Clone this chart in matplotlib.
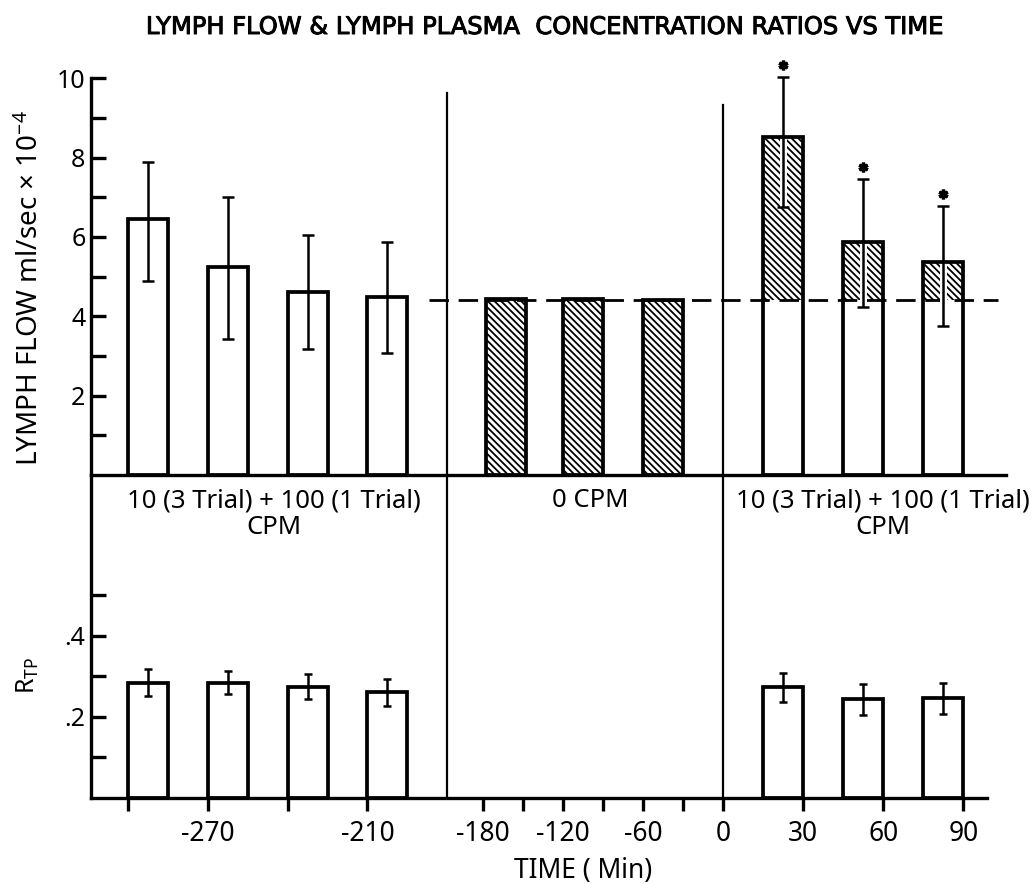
import numpy as np
import matplotlib
matplotlib.use("Agg")
import matplotlib.pyplot as plt
import matplotlib.patheffects as pe

# ---------------- data ----------------
title = "LYMPH FLOW & LYMPH PLASMA  CONCENTRATION RATIOS VS TIME"
ylabel_top = r"LYMPH FLOW ml/sec $\times$ 10$^{-4}$"
ylabel_bot = r"R$_{\mathrm{TP}}$"
xlabel = "TIME ( Min)"
period_labels = ["10 (3 Trial) + 100 (1 Trial)\nCPM", "0 CPM",
                 "10 (3 Trial) + 100 (1 Trial)\nCPM"]

# bar start times (min) and bar durations for the three periods
pre_start = [-300, -270, -240, -210]
ctrl_start = [-178, -120, -60]
post_start = [15, 45, 75]
pre_dur, ctrl_dur, post_dur = 15, 30, 15

# lymph flow (ml/sec x 1e-4)
flow_pre = [6.45, 5.24, 4.61, 4.48]
flow_pre_err_hi = [1.43, 1.78, 1.44, 1.39]
flow_pre_err_lo = [1.55, 1.82, 1.44, 1.41]
flow_ctrl = [4.44, 4.43, 4.42]
flow_post = [8.51, 5.88, 5.38]
flow_post_err_hi = [1.53, 1.58, 1.40]
flow_post_err_lo = [1.75, 1.65, 1.62]
flow_control_mean = 4.41

# lymph/plasma concentration ratio R_TP
rtp_pre = [0.284, 0.284, 0.274, 0.260]
rtp_pre_err = [0.033, 0.028, 0.031, 0.033]
rtp_post = [0.273, 0.243, 0.245]
rtp_post_err = [0.036, 0.038, 0.038]

pre_ticks = [-300, -270, -240, -210]
pre_ticklabels = ["", "-270", "", "-210"]
ctrl_ticks = [-180, -150, -120, -90, -60, -30]
ctrl_ticklabels = ["-180", "", "-120", "", "-60", ""]
post_ticks = [0, 30, 60, 90]
post_ticklabels = ["0", "30", "60", "90"]

top_yticks = list(range(1, 11))
top_yticklabels = ["" if v % 2 else str(v) for v in top_yticks]
bot_yticks = [0.1, 0.2, 0.3, 0.4, 0.5]
bot_yticklabels = ["", ".2", "", ".4", ""]

# ---------------- layout ----------------
W, H = 1034, 884
X0, X1 = 91, 1006                       # horizontal axis range (pixel-like units)
TOP_BASE, TOP_PX = 475.0, 39.67         # top panel baseline / px per unit
BOT_BASE, BOT_PX = 797.7, 405.0         # bottom panel baseline / px per unit
# broken time axis: each period has its own linear scale
SEG = [(-315, -180, 87.7, 447.4),
       (-207, 0, 447.4, 723.0),
       (0, 106, 723.0, 1006.0)]


def pos(seg, t):
    t0, t1, u0, u1 = SEG[seg]
    return u0 + (np.asarray(t, dtype=float) - t0) * (u1 - u0) / (t1 - t0)


FONT = ["Noto Sans", "DejaVu Sans"]
plt.rcParams["font.family"] = FONT
plt.rcParams["mathtext.fontset"] = "custom"
plt.rcParams["mathtext.rm"] = "Noto Sans"
plt.rcParams["mathtext.it"] = "Noto Sans:italic"
plt.rcParams["hatch.linewidth"] = 1.3

LW_BAR, LW_SPINE, LW_ERR, LW_SEP = 2.7, 2.4, 1.8, 1.6
HATCH = "\\" * 5

fig = plt.figure(figsize=(W / 100, H / 100), dpi=100)
top_ylim = (0, 10.9)
bot_ylim = (0, (BOT_BASE - TOP_BASE) / BOT_PX)
ax_t = fig.add_axes([X0 / W, 1 - TOP_BASE / H, (X1 - X0) / W, top_ylim[1] * TOP_PX / H])
ax_b = fig.add_axes([X0 / W, 1 - BOT_BASE / H, (X1 - X0) / W, (BOT_BASE - TOP_BASE) / H])

for ax in (ax_t, ax_b):
    ax.set_facecolor("none")
    ax.set_xlim(X0, X1)
    for s in ("top", "right"):
        ax.spines[s].set_visible(False)
    for s in ("left", "bottom"):
        ax.spines[s].set_linewidth(LW_SPINE)

ax_t.set_ylim(*top_ylim)
ax_b.set_ylim(*bot_ylim)

# ---------------- top panel ----------------
pre_x = pos(0, pre_start)
pre_w = pos(0, np.array(pre_start) + pre_dur) - pre_x
ctrl_x = pos(1, ctrl_start)
ctrl_w = pos(1, np.array(ctrl_start) + ctrl_dur) - ctrl_x
post_x = pos(2, post_start)
post_w = pos(2, np.array(post_start) + post_dur) - post_x

ax_t.bar(pre_x, flow_pre, pre_w, align="edge", color="white", edgecolor="black",
         linewidth=LW_BAR, zorder=2)
ax_t.errorbar(pre_x + pre_w / 2, flow_pre, yerr=[flow_pre_err_lo, flow_pre_err_hi],
              fmt="none", ecolor="black", elinewidth=LW_ERR, capsize=4.5,
              capthick=LW_ERR, zorder=4)

ax_t.bar(ctrl_x, flow_ctrl, ctrl_w, align="edge", color="white", edgecolor="black",
         linewidth=LW_BAR, hatch=HATCH, zorder=2)

flow_post_arr = np.array(flow_post)
ax_t.bar(post_x, [flow_control_mean] * len(post_x), post_w, align="edge",
         color="white", edgecolor="none", zorder=2)
ax_t.bar(post_x, flow_post_arr - flow_control_mean, post_w, bottom=flow_control_mean,
         align="edge", color="white", edgecolor="black", linewidth=0,
         hatch=HATCH, zorder=2)

# control-mean dashed reference line
ax_t.plot([pos(0, -187), pos(2, 103)], [flow_control_mean] * 2, color="black",
          linewidth=2.0, linestyle=(0, (7, 3.5)), zorder=3)

eb = ax_t.errorbar(post_x + post_w / 2, flow_post,
                   yerr=[flow_post_err_lo, flow_post_err_hi], fmt="none",
                   ecolor="black", elinewidth=LW_ERR, capsize=4.5,
                   capthick=LW_ERR, zorder=4)
for lc in eb[2]:
    lc.set_path_effects([pe.withStroke(linewidth=5, foreground="white")])
ax_t.bar(post_x, flow_post, post_w, align="edge", fill=False, edgecolor="black",
         linewidth=LW_BAR, zorder=5)

# significance stars
ax_t.plot(post_x + post_w / 2, flow_post_arr + np.array(flow_post_err_hi) + 0.3,
          linestyle="none", marker=(6, 2, 0), markersize=7, markeredgewidth=2.4,
          color="black", clip_on=False, zorder=6)

# period separators
ax_t.plot([SEG[0][3]] * 2, [0, 9.63], color="black", linewidth=LW_SEP, zorder=3)
ax_t.plot([SEG[1][3]] * 2, [0, 9.33], color="black", linewidth=LW_SEP, zorder=3)

ax_t.spines["left"].set_bounds(0, 10)
ax_t.set_yticks(top_yticks)
ax_t.set_yticklabels(top_yticklabels)
ax_t.set_xticks([])
ax_t.tick_params(axis="y", direction="in", length=11, width=LW_SPINE, pad=4,
                 labelsize=18)

# ---------------- bottom panel ----------------
ax_b.bar(pre_x, rtp_pre, pre_w, align="edge", color="white", edgecolor="black",
         linewidth=LW_BAR, zorder=2)
ax_b.errorbar(pre_x + pre_w / 2, rtp_pre, yerr=rtp_pre_err, fmt="none",
              ecolor="black", elinewidth=LW_ERR, capsize=3.2, capthick=LW_ERR,
              zorder=4)
ax_b.bar(post_x, rtp_post, post_w, align="edge", color="white", edgecolor="black",
         linewidth=LW_BAR, zorder=2)
ax_b.errorbar(post_x + post_w / 2, rtp_post, yerr=rtp_post_err, fmt="none",
              ecolor="black", elinewidth=LW_ERR, capsize=3.2, capthick=LW_ERR,
              zorder=4)

ax_b.axvline(SEG[0][3], color="black", linewidth=LW_SEP, zorder=3)
ax_b.axvline(SEG[1][3], color="black", linewidth=LW_SEP, zorder=3)

ax_b.spines["bottom"].set_bounds(X0, float(pos(2, 99)))
ax_b.set_yticks(bot_yticks)
ax_b.set_yticklabels(bot_yticklabels)
ax_b.tick_params(axis="y", direction="in", length=11, width=LW_SPINE, pad=4,
                 labelsize=18)

xt = np.concatenate([pos(0, pre_ticks), pos(1, ctrl_ticks), pos(2, post_ticks)])
xl = pre_ticklabels + ctrl_ticklabels + post_ticklabels
ax_b.set_xticks(xt)
ax_b.set_xticklabels(xl)
ax_b.tick_params(axis="x", direction="out", length=9, width=LW_SPINE, pad=7,
                 labelsize=19)

# period labels
lab_u = [pos(0, -245), pos(1, -100), pos(2, 60)]
lab_y = [0.879, 0.922, 0.879]
for u, y, s in zip(lab_u, lab_y, period_labels):
    ax_b.text(float(u), y, s, transform=ax_b.get_xaxis_transform(), ha="center",
              va="center", multialignment="center", fontsize=18.5, linespacing=1.1)

# ---------------- figure texts ----------------
fig.text(544 / W, 1 - 27 / H, title, ha="center", va="center", fontsize=17.4,
         family=["DejaVu Sans"],
         path_effects=[pe.withStroke(linewidth=0.7, foreground="black")])
fig.text(31 / W, 1 - 288 / H, ylabel_top, rotation=90, ha="center", va="center",
         fontsize=20)
fig.text(28 / W, 1 - 675 / H, ylabel_bot, rotation=90, ha="center", va="center",
         fontsize=18)
fig.text(583 / W, 1 - 871 / H, xlabel, ha="center", va="center", fontsize=19)

fig.savefig("out.png", dpi=100)
